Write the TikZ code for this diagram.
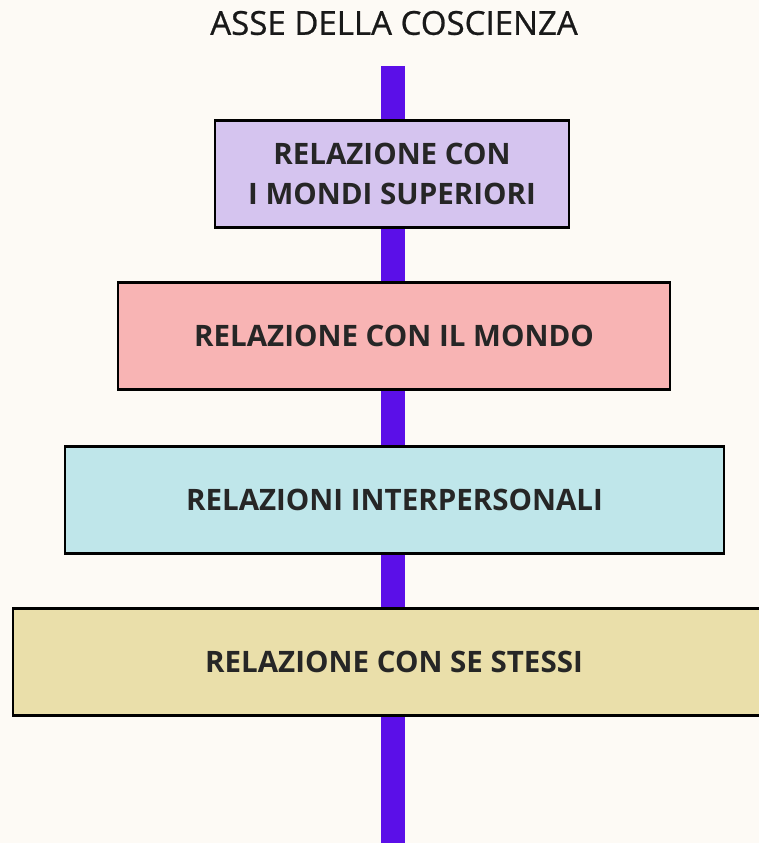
\documentclass[tikz,border=0pt]{standalone}
\usepackage{fontspec}
\setmainfont{Open Sans}
\newfontfamily\titlefont{Open Sans}[BoldFont={Open Sans},BoldFeatures={FakeBold=0.7}]
\definecolor{bgcol}{HTML}{FDFAF5}
\definecolor{axiscol}{HTML}{5B0FE8}
\definecolor{lilac}{HTML}{D5C4EF}
\definecolor{rose}{HTML}{F8B4B4}
\definecolor{aqua}{HTML}{BFE6EA}
\definecolor{sand}{HTML}{EADFAA}
\tikzset{
    level/.style={rectangle,draw=black,line width=1.7pt,minimum height=107*0.02cm,
        font=\fontsize{16.8}{22.7}\selectfont\bfseries,align=center,text=black!85},
    axis/.style={-,line width=24*0.02cm,draw=axiscol},
    title/.style={font=\titlefont\fontsize{18.8}{22}\selectfont\bfseries,text=black!90},
}
\begin{document}
\begin{tikzpicture}[x=0.02cm,y=-0.02cm]
    \fill[bgcol] (0,0) rectangle (759,843);
    \useasboundingbox (0,0) rectangle (759,843);
    \node[title] (t) at (394,23) {ASSE DELLA COSCIENZA};
    \coordinate (top) at (392.5,66);
    \coordinate (bot) at (392.5,850);
    \draw[axis] (top) -- (bot);
    \node[level,fill=lilac,minimum width=354*0.02cm] (1) at (392,173.5) {RELAZIONE CON\\I MONDI SUPERIORI};
    \node[level,fill=rose,minimum width=552*0.02cm] (2) at (394,336) {RELAZIONE CON IL MONDO};
    \node[level,fill=aqua,minimum width=659*0.02cm] (3) at (394.5,499.5) {RELAZIONI INTERPERSONALI};
    \node[level,fill=sand,minimum width=762*0.02cm] (4) at (394,662) {RELAZIONE CON SE STESSI};
\end{tikzpicture}
\end{document}
